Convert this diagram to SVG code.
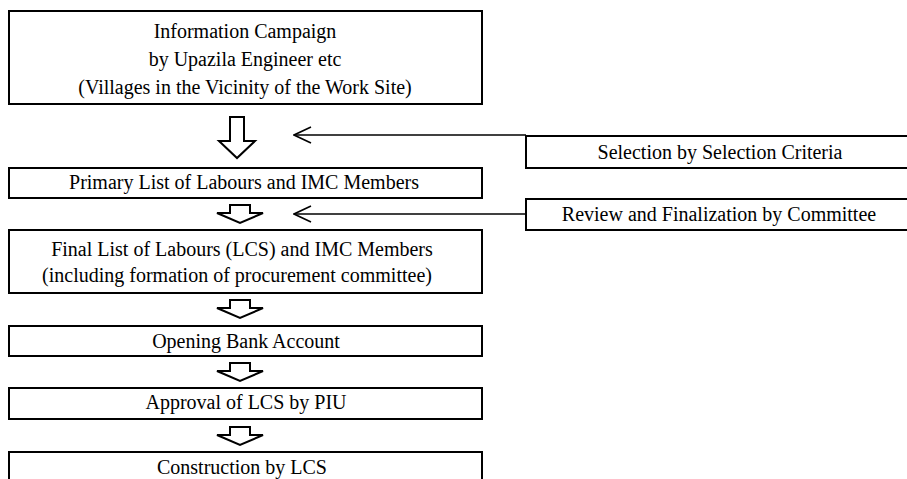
<svg xmlns="http://www.w3.org/2000/svg" width="907" height="479" viewBox="0 0 907 479">
<style>
.box{fill:#fff;stroke:#000;stroke-width:2}
.t{font-family:"Liberation Serif","Times New Roman",serif;font-size:20px;fill:#000;text-anchor:middle}
.blk{fill:#fff;stroke:#000;stroke-width:2;stroke-linejoin:miter}
.ln{fill:none;stroke:#000;stroke-width:1.6}
</style>
<defs>
<marker id="open" viewBox="0 0 20 20" refX="19" refY="10" markerWidth="20" markerHeight="20" markerUnits="userSpaceOnUse" orient="auto">
<path d="M2,2 L19,10 L2,18" fill="none" stroke="#000" stroke-width="1.6"/>
</marker>
</defs>
<rect width="907" height="479" fill="#fff"/>
<g id="connectors">
<path class="blk" d="M230,117 H244 V141 H255 L237,158 L219,141 H230 Z"/>
<path class="blk" d="M230,205 H250 V213 H263 L240,223 L217,213 H230 Z"/>
<path class="blk" d="M230,300 H250 V308 H263 L240,318 L217,308 H230 Z"/>
<path class="blk" d="M230,363 H250 V371 H263 L240,381 L217,371 H230 Z"/>
<path class="blk" d="M230,427 H250 V435 H263 L240,445 L217,435 H230 Z"/>
<line class="ln" x1="526" y1="135" x2="294" y2="135" marker-end="url(#open)"/>
<line class="ln" x1="526" y1="214" x2="294" y2="214" marker-end="url(#open)"/>
</g>
<g id="n1">
<rect class="box" x="9" y="11" width="473" height="93"/>
<text class="t" x="245" y="38">Information Campaign</text>
<text class="t" x="245" y="66">by Upazila Engineer etc</text>
<text class="t" x="245" y="94">(Villages in the Vicinity of the Work Site)</text>
</g>
<g id="n2">
<rect class="box" x="526" y="136" width="390" height="32"/>
<text class="t" x="720" y="159">Selection by Selection Criteria</text>
</g>
<g id="n3">
<rect class="box" x="9" y="168" width="473" height="30"/>
<text class="t" x="244" y="189">Primary List of Labours and IMC Members</text>
</g>
<g id="n4">
<rect class="box" x="526" y="199" width="390" height="31"/>
<text class="t" x="719" y="221">Review and Finalization by Committee</text>
</g>
<g id="n5">
<rect class="box" x="9" y="230" width="473" height="63"/>
<text class="t" x="242" y="256">Final List of Labours (LCS) and IMC Members</text>
<text class="t" x="237" y="282">(including formation of procurement committee)</text>
</g>
<g id="n6">
<rect class="box" x="9" y="326" width="473" height="30"/>
<text class="t" x="246" y="348">Opening Bank Account</text>
</g>
<g id="n7">
<rect class="box" x="9" y="388" width="473" height="31"/>
<text class="t" x="246" y="409">Approval of LCS by PIU</text>
</g>
<g id="n8">
<rect class="box" x="9" y="452" width="473" height="40"/>
<text class="t" x="242" y="474">Construction by LCS</text>
</g>
</svg>
